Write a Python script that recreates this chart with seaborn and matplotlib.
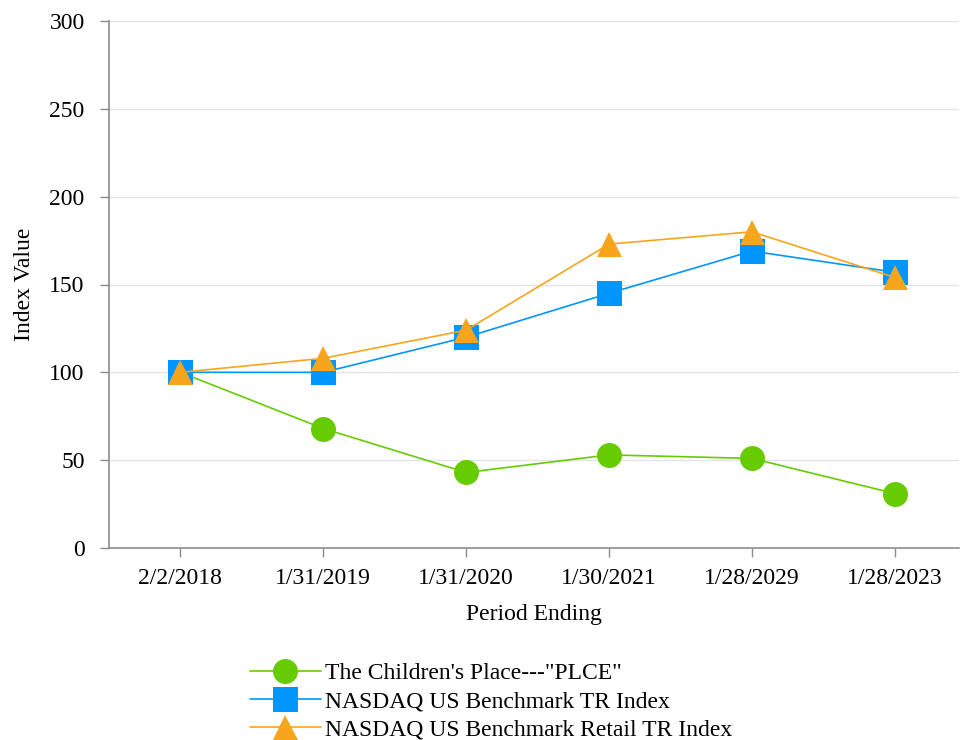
import matplotlib
matplotlib.use("Agg")
import matplotlib.pyplot as plt
import seaborn as sns
import pandas as pd

# Values
periods = ["2/2/2018", "1/31/2019", "1/31/2020", "1/30/2021", "1/28/2029", "1/28/2023"]
plce = [100, 68, 43, 53, 51, 31]
nasdaq_tr = [100, 100, 120, 145, 169, 157]
nasdaq_retail = [100, 108, 124, 173, 180, 154]

series_names = ["The Children's Place---\"PLCE\"",
                "NASDAQ US Benchmark TR Index",
                "NASDAQ US Benchmark Retail TR Index"]
series_values = [plce, nasdaq_tr, nasdaq_retail]

colors = ["#66cc00", "#0096ff", "#f7a51c"]
markers = ["o", "s", "^"]

rows = []
for name, vals in zip(series_names, series_values):
    for i, (p, v) in enumerate(zip(periods, vals)):
        rows.append({"Series": name, "pos": i, "Period": p, "Value": v})
df = pd.DataFrame(rows)

sns.set_style("white")
plt.rcParams['font.family'] = ['Liberation Serif', 'DejaVu Serif']
plt.rcParams['text.color'] = 'black'
plt.rcParams['axes.labelcolor'] = 'black'
plt.rcParams['xtick.labelcolor'] = 'black'
plt.rcParams['ytick.labelcolor'] = 'black'

fig = plt.figure(figsize=(9.61, 7.40), dpi=100)
ax = fig.add_axes([109 / 961, 1 - 548 / 740, 1 - 109 / 961 - 0.002, (548 - 21) / 740])

for name, col, mk in zip(series_names, colors, markers):
    sub = df[df["Series"] == name]
    sns.lineplot(data=sub, x="pos", y="Value", ax=ax, color=col, marker=mk,
                 markersize=18, markeredgewidth=0, linewidth=1.2, label=name)

ax.set_ylim(0, 300)
ax.set_yticks(range(0, 301, 50))
ax.set_xlim(-0.5, 5.45)
ax.set_xticks(range(len(periods)))
ax.set_xticklabels(periods)
ax.yaxis.grid(True, color="#e4e4e4", linewidth=1)
ax.set_axisbelow(True)

for s in ["top", "right"]:
    ax.spines[s].set_visible(False)
for s in ["left", "bottom"]:
    ax.spines[s].set_color("#8c8c8c")
    ax.spines[s].set_linewidth(1.2)

ax.tick_params(axis="both", which="major", length=6.5, width=1, color="#8c8c8c",
               labelsize=17, direction="out", bottom=True, left=True)
ax.tick_params(axis="x", pad=8)
ax.tick_params(axis="y", pad=11)
ax.set_xlabel("Period Ending", fontsize=17, labelpad=11)
ax.set_ylabel("Index Value", fontsize=17, labelpad=10)

handles, labels = ax.get_legend_handles_labels()
ax.get_legend().remove()
fig.legend(handles, labels, loc="upper left", bbox_to_anchor=(238 / 961, 1 - 651 / 740),
           frameon=False, fontsize=17, handlelength=3.0, labelspacing=0.28,
           handletextpad=0.2, borderpad=0)

fig.savefig("out.png", dpi=100)
